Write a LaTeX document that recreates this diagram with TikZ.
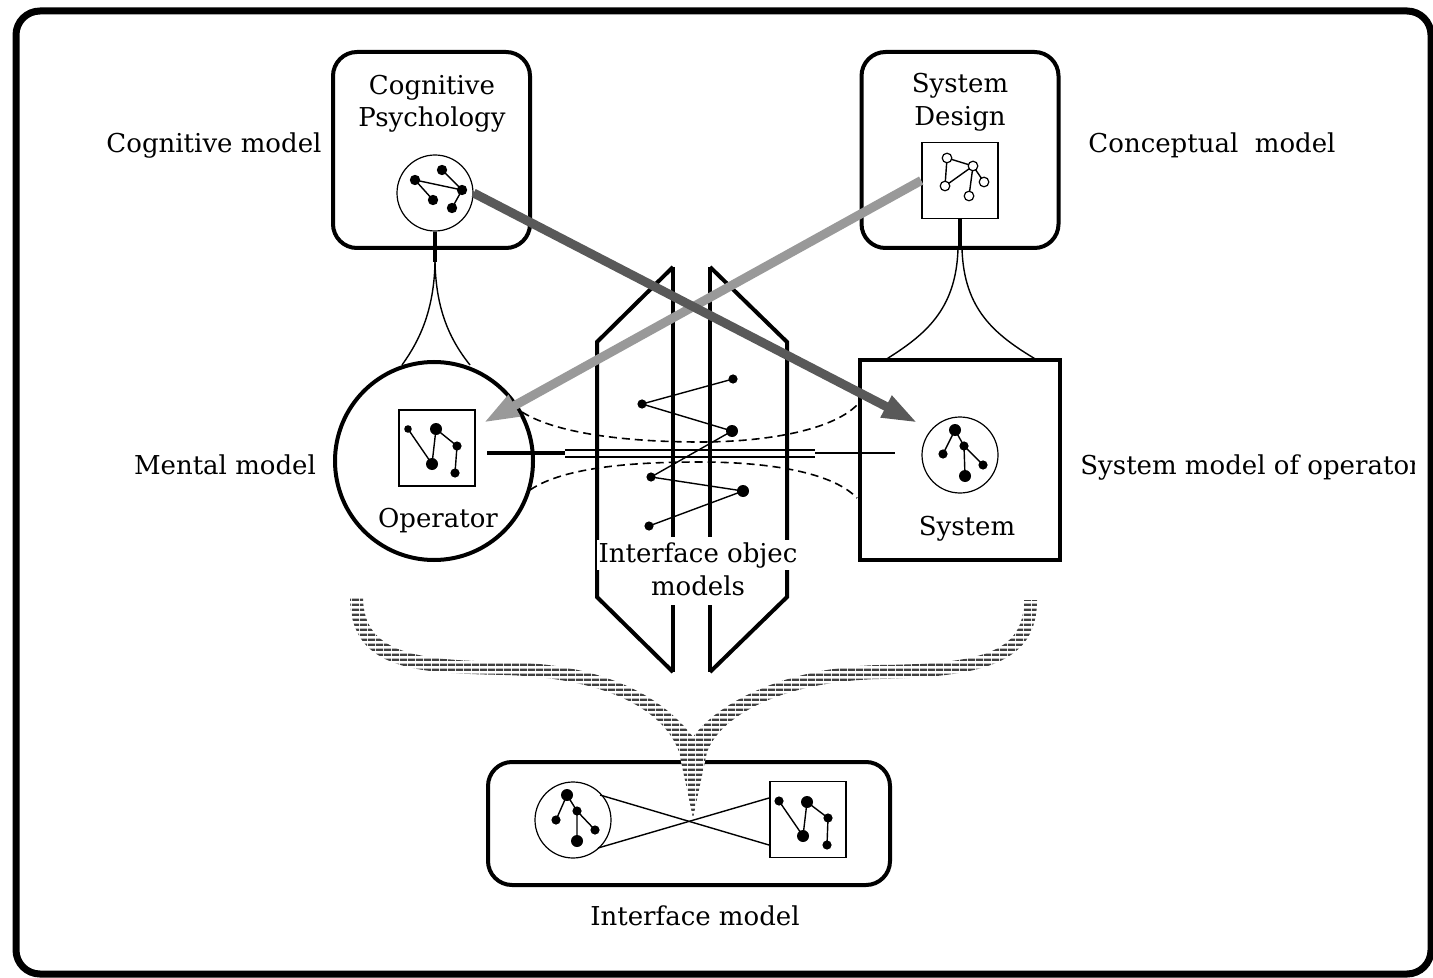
\documentclass[tikz,border=0pt]{standalone}
\usepackage{fontspec}
\setmainfont{DejaVu Serif}
\usetikzlibrary{arrows.meta,patterns}
\pgfdeclarepatternformonly{hstripes}{\pgfqpoint{0pt}{0pt}}{\pgfqpoint{4pt}{2.6pt}}{\pgfqpoint{4pt}{2.6pt}}{\pgfsetlinewidth{1.2pt}\pgfpathmoveto{\pgfqpoint{0pt}{1.3pt}}\pgfpathlineto{\pgfqpoint{4pt}{1.3pt}}\pgfusepath{stroke}}
\begin{document}
\begin{tikzpicture}[x=0.5pt,y=-0.5pt,font=\fontsize{13}{16}\selectfont,
  rbox/.style={draw,line width=2pt,rounded corners=12pt,minimum width=98.5pt,minimum height=98pt,inner sep=0pt},
  thinc/.style={draw,circle,line width=0.6pt,minimum size=38pt,inner sep=0pt},
  sqr/.style={draw,line width=0.8pt,minimum size=38pt,inner sep=0pt},
  lbl/.style={inner sep=0pt,anchor=base},
  conn/.style={line width=0.7pt},
  thickln/.style={line width=2pt},
  dashc/.style={line width=0.8pt,dash pattern=on 4pt off 2.5pt},
  panel/.style={line width=2pt,line join=miter},
  arrowA/.style={line width=4.5pt,draw=black!65,-{Triangle[length=18pt,width=11pt,fill=black!65]}},
  arrowB/.style={line width=4.5pt,draw=black!40,-{Triangle[length=18pt,width=11pt,fill=black!40]}}]
\useasboundingbox (0,0) rectangle (1433,978);
% outer frame
\draw[line width=3.5pt,rounded corners=12pt] (16,11) rectangle (1431,974);

% top boxes
\node[rbox] (cogbox) at (431.5,150) {};
\node[lbl] (cogt1) at (432,95) {Cognitive};
\node[lbl] (cogt2) at (432,127) {Psychology};
\node[thinc] (cogcirc) at (435,193) {};
\node[rbox] (sdbox) at (960,150) {};
\node[lbl] (sdt1) at (960,93) {System};
\node[lbl] (sdt2) at (960,126) {Design};
\node[sqr] (sdsq) at (960,180.5) {};

% middle shapes
\node[draw,circle,line width=2pt,minimum size=99pt,inner sep=0pt] (opcirc) at (434,461) {};
\node[sqr] (opsq) at (437,448) {};
\node[lbl] (optext) at (438,527) {Operator};
\node[draw,line width=2pt,minimum width=100pt,minimum height=100pt,inner sep=0pt] (sysbox) at (960,460) {};
\node[thinc] (syscirc) at (960,455) {};
\node[lbl] (systext) at (967,535) {System};

% labels
\node[lbl] (lcog) at (214,153) {Cognitive model};
\node[lbl] (lcon) at (1212,153) {Conceptual\ \ model};
\node[lbl] (lmen) at (225,474) {Mental model};
\begin{scope}
\clip (1070,430) rectangle (1414,500);
\node[lbl,anchor=base west] (lsys) at (1080,474) {System model of operator};
\end{scope}

% cognitive graph
\coordinate (c1) at (415,180); \coordinate (c2) at (442,170); \coordinate (c3) at (462,190);
\coordinate (c4) at (433,200); \coordinate (c5) at (452,208);
\draw[conn] (c1) -- (c3) (c2) -- (c3) (c1) -- (c4) (c3) -- (c5);
\foreach \p in {c1,c2,c3,c4,c5} \fill (\p) circle[radius=2.6pt];

% design graph
\coordinate (d1) at (947,158); \coordinate (d2) at (973,166); \coordinate (d3) at (984,182);
\coordinate (d4) at (945,186); \coordinate (d5) at (969,196);
\draw[conn] (d1) -- (d2) (d1) -- (d4) (d4) -- (d2) (d2) -- (d3) (d2) -- (d5);
\foreach \p in {d1,d2,d3,d4,d5} \filldraw[fill=white,line width=0.6pt] (\p) circle[radius=2.4pt];

% operator graph
\coordinate (o1) at (408,429); \coordinate (o2) at (436,429); \coordinate (o3) at (457,446);
\coordinate (o4) at (432,464); \coordinate (o5) at (455,473);
\draw[conn] (o1) -- (o4) (o2) -- (o4) (o2) -- (o3) (o3) -- (o5);
\fill (o1) circle[radius=1.9pt]; \fill (o2) circle[radius=3pt]; \fill (o3) circle[radius=2.3pt];
\fill (o4) circle[radius=3pt]; \fill (o5) circle[radius=2.3pt];

% system graph
\coordinate (s1) at (955,430); \coordinate (s2) at (964,446); \coordinate (s3) at (943,454);
\coordinate (s4) at (983,465); \coordinate (s5) at (965,476);
\draw[conn] (s1) -- (s2) (s1) -- (s3) (s2) -- (s4) (s2) -- (s5);
\fill (s1) circle[radius=3pt]; \fill (s2) circle[radius=2.3pt]; \fill (s3) circle[radius=2.3pt];
\fill (s4) circle[radius=2.3pt]; \fill (s5) circle[radius=3pt];

% funnels
\coordinate (cf) at (435,262);
\coordinate (fl) at (402,365); \coordinate (fr) at (470,365);
\draw[thickln] (cogcirc.south) -- (cf);
\draw[conn] (cf) .. controls (434,310) and (420,340) .. (fl);
\draw[conn] (cf) .. controls (436,310) and (450,340) .. (fr);
\draw[thickln] (sdsq.south) -- (sdbox.south);
\coordinate (rf0) at (958,249); \coordinate (rf1) at (962,249);
\coordinate (rl) at (885,360); \coordinate (rr) at (1037,360);
\draw[conn] (rf0) .. controls (956,310) and (925,335) .. (rl);
\draw[conn] (rf1) .. controls (964,310) and (995,335) .. (rr);

% dashed curves
\coordinate (du0) at (522,412); \coordinate (du1) at (857,405);
\coordinate (dl0) at (530,490); \coordinate (dl1) at (857,498);
\draw[dashc] (du0) .. controls (560,436) and (640,442) .. (700,442) .. controls (760,442) and (830,432) .. (du1);
\draw[dashc] (dl0) .. controls (565,466) and (640,462) .. (700,462) .. controls (760,462) and (830,470) .. (dl1);

% horizontal lines
\coordinate (h0) at (487,453); \coordinate (h1) at (565,453);
\coordinate (h1u) at (565,450); \coordinate (h2u) at (815,450);
\coordinate (h1d) at (565,457); \coordinate (h2d) at (815,457);
\coordinate (h3) at (815,453); \coordinate (h4) at (895,453);
\draw[thickln] (h0) -- (h1);
\draw[conn] (h1u) -- (h2u) (h1d) -- (h2d);
\draw[conn] (h3) -- (h4);

% panels
\draw[panel] (673,267) -- (597,342) -- (597,597) -- (673,672);
\draw[panel] (673,267) -- (673,537) (673,605) -- (673,672);
\draw[panel] (710,267) -- (787,342) -- (787,597) -- (710,672);
\draw[panel] (710,267) -- (710,537) (710,605) -- (710,672);

% zigzag
\coordinate (z1) at (733,379); \coordinate (z2) at (642,404); \coordinate (z3) at (732,431);
\coordinate (z4) at (651,477); \coordinate (z5) at (743,491); \coordinate (z6) at (649,526);
\draw[conn] (z1) -- (z2) -- (z3) -- (z4) -- (z5) -- (z6);
\fill (z1) circle[radius=2.3pt]; \fill (z2) circle[radius=2.3pt]; \fill (z3) circle[radius=3pt];
\fill (z4) circle[radius=2.3pt]; \fill (z5) circle[radius=3pt]; \fill (z6) circle[radius=2.3pt];

\node[lbl,fill=white,inner sep=1pt] (iot1) at (698,562) {Interface objec};
\node[lbl] (iot2) at (698,595) {models};

% arrows
\coordinate (a1e) at (918,423);
\coordinate (a2e) at (483,423);
\draw[arrowB] (sdsq.west) -- (a2e);
\draw[arrowA] (cogcirc.east) -- (a1e);

% interface model
\node[draw,line width=2pt,rounded corners=12pt,minimum width=201pt,minimum height=61.5pt,inner sep=0pt] (ifbox) at (689,823.5) {};
\node[thinc] (ifcirc) at (573,820) {};
\node[sqr] (ifsq) at (808,819.5) {};
\node[lbl] (iftext) at (695,925) {Interface model};

\coordinate (i1) at (567,795); \coordinate (i2) at (577,811); \coordinate (i3) at (556,820);
\coordinate (i4) at (595,830); \coordinate (i5) at (577,841);
\draw[conn] (i1) -- (i2) (i1) -- (i3) (i2) -- (i4) (i2) -- (i5);
\fill (i1) circle[radius=3pt]; \fill (i2) circle[radius=2.3pt]; \fill (i3) circle[radius=2.3pt];
\fill (i4) circle[radius=2.3pt]; \fill (i5) circle[radius=3pt];

\coordinate (j1) at (779,801); \coordinate (j2) at (807,802); \coordinate (j3) at (828,818);
\coordinate (j4) at (803,836); \coordinate (j5) at (827,845);
\draw[conn] (j1) -- (j4) (j2) -- (j4) (j2) -- (j3) (j3) -- (j5);
\fill (j1) circle[radius=2.3pt]; \fill (j2) circle[radius=3pt]; \fill (j3) circle[radius=2.3pt];
\fill (j4) circle[radius=3pt]; \fill (j5) circle[radius=2.3pt];

% hatched bands
\def\bandpath{(350,597) .. controls (350,672) and (420,673) .. (505,675) .. controls (610,678) and (665,712) .. (679,752) -- (693,818) -- (707,752) .. controls (722,712) and (790,681) .. (880,679) .. controls (990,677) and (1037,660) .. (1037,600) -- (1024,600) .. controls (1024,651) and (985,664) .. (880,665) .. controls (790,667) and (720,700) .. (693,737) .. controls (665,700) and (610,664) .. (505,662) .. controls (420,660) and (363,655) .. (363,597) -- cycle}
\fill[white] \bandpath;
\fill[pattern=hstripes,pattern color=black!75] \bandpath;

% X lines
\coordinate (xa) at (600,795); \coordinate (xb) at (769,845);
\coordinate (xc) at (598,848); \coordinate (xd) at (769,798);
\draw[conn] (xa) -- (xb);
\draw[conn] (xc) -- (xd);
\end{tikzpicture}
\end{document}
